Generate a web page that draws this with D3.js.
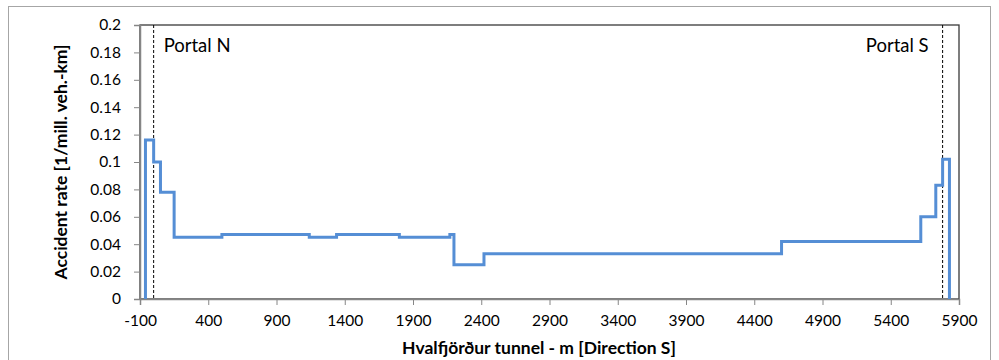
<!DOCTYPE html>
<html>
<head>
<meta charset="utf-8">
<script src="https://cdn.jsdelivr.net/npm/d3@7"></script>
<style>
  body { margin: 0; background: #fff; }
  text { font-family: Lato, "Open Sans", sans-serif; fill: #000; }
</style>
</head>
<body>
<div id="chart-area"></div>
<script>
// step breakpoints (m) and the rate on each segment
const distance = [-60, 0, 50, 150, 500, 1140, 1340, 1800, 2170, 2200, 2420, 4600, 5620, 5730, 5780, 5830]
const rate = [0.116, 0.100, 0.078, 0.045, 0.047, 0.045, 0.047, 0.045, 0.047, 0.025, 0.033, 0.042, 0.060, 0.083, 0.102]
const portals = [{ name: "Portal N", at: 0 }, { name: "Portal S", at: 5780 }]
const xTicks = d3.range(-100, 5901, 500)
const yTicks = d3.range(0, 0.2001, 0.02)

const W = 999, H = 360
const MARGIN = { LEFT: 140, RIGHT: 40, TOP: 25, BOTTOM: 61 }

const svg = d3.select('#chart-area')
    .append('svg')
    .attr('width', W)
    .attr('height', H)

// outer chart frame
svg.append('rect')
    .attr('x', 8.5).attr('y', 6.5)
    .attr('width', 982).attr('height', 360)
    .attr('fill', 'none').attr('stroke', '#a6a6a6')

const x = d3.scaleLinear()
    .domain([-100, 5900])
    .range([MARGIN.LEFT, W - MARGIN.RIGHT])
const y = d3.scaleLinear()
    .domain([0, 0.2])
    .range([H - MARGIN.BOTTOM, MARGIN.TOP])

// plot frame
svg.append('rect')
    .attr('x', x(-100)).attr('y', y(0.2))
    .attr('width', x(5900) - x(-100)).attr('height', y(0) - y(0.2))
    .attr('fill', 'none').attr('stroke', '#3a3a3a').attr('stroke-width', 1.3)

const xAxis = svg.append('g')
    .attr('transform', `translate(0, ${y(0)})`)
    .call(d3.axisBottom(x).tickValues(xTicks).tickSize(6).tickPadding(10).tickFormat(d => String(d)))
xAxis.select('.domain').attr('stroke', '#868686').attr('stroke-width', 1.5)
xAxis.selectAll('.tick line').attr('stroke', '#868686')
xAxis.selectAll('text').attr('font-size', 15.5).attr('font-family', 'Lato, sans-serif')

const yAxis = svg.append('g')
    .attr('transform', `translate(${x(-100)}, 0)`)
    .call(d3.axisLeft(y).tickValues(yTicks).tickSize(6).tickPadding(13).tickFormat(d => String(+d.toFixed(2))))
yAxis.select('.domain').attr('stroke', '#868686').attr('stroke-width', 1.5)
yAxis.selectAll('.tick line').attr('stroke', '#868686')
yAxis.selectAll('text').attr('font-size', 15.5).attr('font-family', 'Lato, sans-serif')

// portal markers
svg.selectAll('.portal')
    .data(portals)
    .enter()
    .append('line')
    .attr('x1', d => x(d.at)).attr('x2', d => x(d.at))
    .attr('y1', y(0.2)).attr('y2', y(0))
    .attr('stroke', '#000').attr('stroke-width', 1)
    .attr('stroke-dasharray', '3,2')

svg.append('text')
    .attr('x', x(0) + 10).attr('y', 52)
    .attr('font-size', 18.5)
    .text(portals[0].name)
svg.append('text')
    .attr('x', x(5780) - 14).attr('y', 52)
    .attr('font-size', 18.5)
    .attr('text-anchor', 'end')
    .text(portals[1].name)

// step line: starts and ends at zero
const pts = [[distance[0], 0]]
rate.forEach((r, i) => pts.push([distance[i], r]))
pts.push([distance[distance.length - 1], rate[rate.length - 1]])
pts.push([distance[distance.length - 1], 0])

const line = d3.line()
    .x(d => x(d[0]))
    .y(d => y(d[1]))
    .curve(d3.curveStepAfter)

svg.append('path')
    .datum(pts)
    .attr('d', line)
    .attr('fill', 'none')
    .attr('stroke', '#558ed5')
    .attr('stroke-width', 3)

// axis titles
svg.append('text')
    .attr('transform', `translate(67, ${(y(0) + y(0.2)) / 2}) rotate(-90)`)
    .attr('text-anchor', 'middle')
    .attr('font-size', 17.5).attr('font-weight', 'bold')
    .text('Accident rate [1/mill. veh.-km]')

svg.append('text')
    .attr('x', 539).attr('y', 354)
    .attr('text-anchor', 'middle')
    .attr('font-size', 17.5).attr('font-weight', 'bold')
    .text('Hvalfjörður tunnel - m [Direction S]')
</script>
</body>
</html>
